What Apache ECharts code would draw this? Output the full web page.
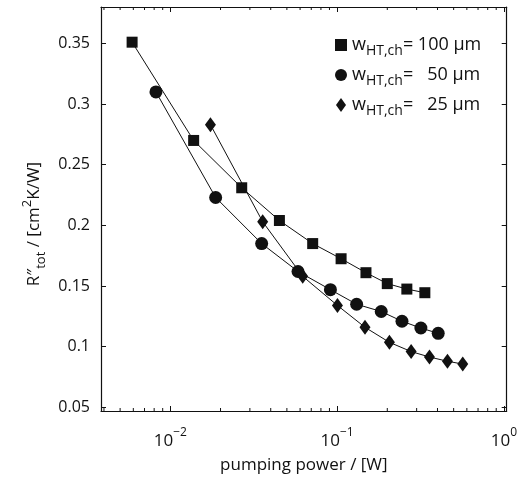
<!DOCTYPE html>
<html>
<head>
<meta charset="utf-8">
<script src="https://cdn.jsdelivr.net/npm/echarts@6/dist/echarts.min.js"></script>
<style>
html, body { margin: 0; padding: 0; background: #fff; }
#chart { width: 520px; height: 479px; }
</style>
</head>
<body>
<div id="chart"></div>
<script>
// data
const power100 = [0.0059, 0.0138, 0.0268, 0.0451, 0.0714, 0.1057, 0.149, 0.200, 0.262, 0.336];
const r100 = [0.351, 0.270, 0.231, 0.204, 0.185, 0.1725, 0.161, 0.152, 0.1475, 0.1445];
const power50 = [0.0082, 0.0187, 0.0353, 0.0583, 0.0912, 0.131, 0.184, 0.245, 0.318, 0.404];
const r50 = [0.310, 0.223, 0.185, 0.162, 0.147, 0.135, 0.129, 0.121, 0.1154, 0.111];
const power25 = [0.0174, 0.0358, 0.0622, 0.1005, 0.147, 0.206, 0.278, 0.358, 0.459, 0.567];
const r25 = [0.283, 0.203, 0.158, 0.134, 0.116, 0.1036, 0.096, 0.0915, 0.088, 0.0857];
const names = ['w100', 'w50', 'w25'];
const legendText = {
    w100: '{w|w}{sub|HT,ch}{t|= 100 μm}',
    w50: '{w|w}{sub|HT,ch}{t|=   50 μm}',
    w25: '{w|w}{sub|HT,ch}{t|=   25 μm}'
};
// minor ticks of the log axis (2..9 x 10^k)
const minorTicks = [0.004, 0.005, 0.006, 0.007, 0.008, 0.009,
    0.02, 0.03, 0.04, 0.05, 0.06, 0.07, 0.08, 0.09,
    0.2, 0.3, 0.4, 0.5, 0.6, 0.7, 0.8, 0.9];
const xMin = 0.00384, xMax = 1.04;
const yMin = 0.047, yMax = 0.38;

const font = 'Open Sans';
const ink = '#111';

function pairs(xs, ys) {
    return xs.map((x, i) => [x, ys[i]]);
}

function logLabel(v) {
    const e = Math.log10(v);
    if (Math.abs(e - Math.round(e)) > 1e-6) return '';
    const r = Math.round(e);
    return '{b|10}{sup|' + (r < 0 ? '\u2212' + (-r) : r) + '}';
}

function yLabel(v) {
    const k = v / 0.05;
    if (Math.abs(k - Math.round(k)) > 1e-6) return '';
    return String(+v.toFixed(2));
}

let chart = echarts.init(document.getElementById('chart'));

const axisLine = { show: true, lineStyle: { color: ink, width: 1.2 } };

let option = {
    backgroundColor: '#fff',
    animation: false,
    textStyle: { fontFamily: font },
    grid: { left: 101, right: 13, top: 7, bottom: 67 },
    legend: {
        data: [
            { name: 'w100', icon: 'path://M0,0H10V10H0Z' },
            { name: 'w50', icon: 'circle' },
            { name: 'w25', icon: 'path://M5,0L10,7L5,14L0,7Z' }
        ],
        orient: 'vertical',
        left: 330,
        top: 31,
        itemWidth: 12,
        itemHeight: 14,
        itemGap: 8,
        symbolKeepAspect: true,
        formatter: n => legendText[n],
        textStyle: {
            fontFamily: font,
            color: ink,
            rich: {
                w: { fontSize: 18, fontFamily: font, color: ink, verticalAlign: 'top', lineHeight: 18 },
                sub: { fontSize: 14, fontFamily: font, color: ink, verticalAlign: 'top', lineHeight: 14, padding: [8, 0, 0, 0] },
                t: { fontSize: 18, fontFamily: font, color: ink, verticalAlign: 'top', lineHeight: 18 }
            }
        }
    },
    xAxis: [{
        type: 'log',
        min: xMin,
        max: xMax,
        name: 'pumping power / [W]',
        nameLocation: 'middle',
        nameGap: 46,
        nameTextStyle: { fontFamily: font, fontSize: 17, color: ink },
        axisLine: axisLine,
        axisTick: { show: true, inside: true, length: 5, lineStyle: { color: ink } },
        axisLabel: {
            formatter: logLabel,
            margin: 16,
            color: ink,
            rich: {
                b: { fontSize: 17, fontFamily: font, color: ink, verticalAlign: 'top', lineHeight: 18, padding: [6, 0, 0, 0] },
                sup: { fontSize: 12, fontFamily: font, color: ink, verticalAlign: 'top', lineHeight: 13 }
            }
        },
        splitLine: { show: false }
    }, {
        type: 'log',
        position: 'top',
        min: xMin,
        max: xMax,
        axisLine: axisLine,
        axisTick: { show: true, inside: true, length: 5, lineStyle: { color: ink } },
        axisLabel: { show: false },
        splitLine: { show: false }
    }],
    yAxis: [{
        type: 'value',
        min: yMin,
        max: yMax,
        splitNumber: 7,
        name: '{a|R\u2033}{s|tot}{a| / [cm}{p|2}{a|K/W]}',
        nameLocation: 'middle',
        nameGap: 62,
        nameRotate: 90,
        nameTextStyle: {
            color: ink,
            padding: [0, 30, 0, 0],
            rich: {
                a: { fontSize: 17, fontFamily: font, color: ink, verticalAlign: 'top', lineHeight: 18, padding: [5, 0, 0, 0] },
                s: { fontSize: 13, fontFamily: font, color: ink, verticalAlign: 'top', lineHeight: 14, padding: [14, 0, 0, 0] },
                p: { fontSize: 13, fontFamily: font, color: ink, verticalAlign: 'top', lineHeight: 14 }
            }
        },
        axisLine: axisLine,
        axisTick: { show: true, inside: true, length: 5, lineStyle: { color: ink } },
        axisLabel: { formatter: yLabel, margin: 11, fontSize: 16, fontFamily: font, color: ink, showMinLabel: true, showMaxLabel: true },
        splitLine: { show: false }
    }, {
        type: 'value',
        position: 'right',
        min: yMin,
        max: yMax,
        splitNumber: 7,
        axisLine: axisLine,
        axisTick: { show: true, inside: true, length: 5, lineStyle: { color: ink } },
        axisLabel: { show: false },
        splitLine: { show: false }
    }],
    series: [{
        name: 'w100',
        type: 'line',
        data: pairs(power100, r100),
        symbol: 'rect',
        symbolSize: 11,
        lineStyle: { color: ink, width: 1 },
        itemStyle: { color: ink }
    }, {
        name: 'w50',
        type: 'line',
        data: pairs(power50, r50),
        symbol: 'circle',
        symbolSize: 13,
        lineStyle: { color: ink, width: 1 },
        itemStyle: { color: ink }
    }, {
        name: 'w25',
        type: 'line',
        data: pairs(power25, r25),
        symbol: 'diamond',
        symbolSize: [11, 15],
        lineStyle: { color: ink, width: 1 },
        itemStyle: { color: ink }
    }, {
        // minor ticks on bottom and top edges
        type: 'custom',
        silent: true,
        data: minorTicks.map(v => [v, yMin]),
        renderItem: function (params, api) {
            const cs = params.coordSys;
            const x = api.coord([api.value(0), yMin])[0];
            const style = { stroke: ink, lineWidth: 1 };
            return {
                type: 'group',
                children: [{
                    type: 'line',
                    shape: { x1: x, y1: cs.y + cs.height, x2: x, y2: cs.y + cs.height - 3 },
                    style: style
                }, {
                    type: 'line',
                    shape: { x1: x, y1: cs.y, x2: x, y2: cs.y + 3 },
                    style: style
                }]
            };
        }
    }]
};
chart.setOption(option);
</script>
</body>
</html>
